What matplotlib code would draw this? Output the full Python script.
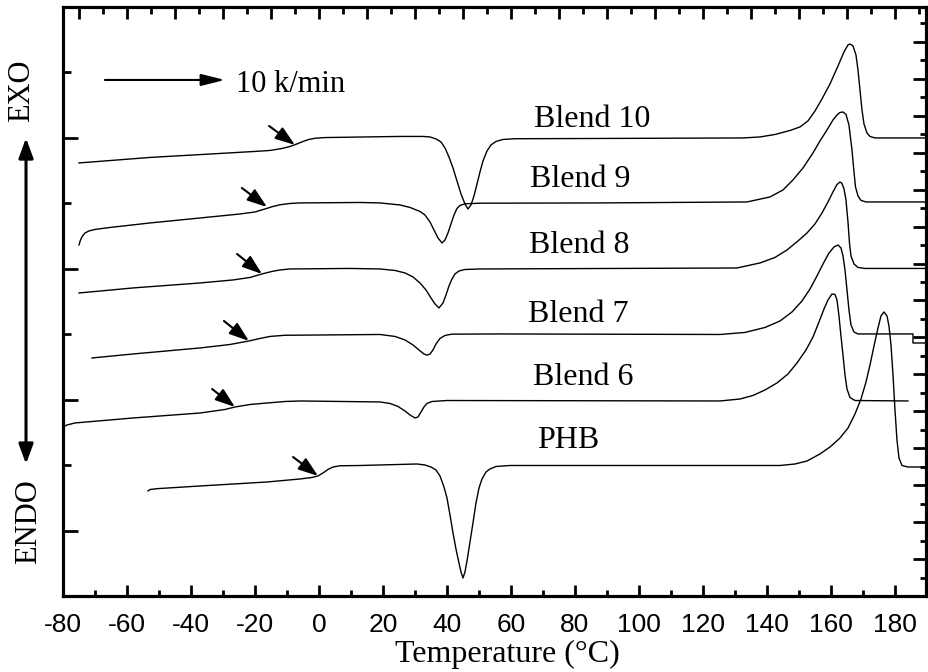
import numpy as np
import matplotlib.pyplot as plt
from matplotlib.ticker import MultipleLocator

plt.rcParams['font.family'] = 'Liberation Serif'
plt.rcParams['axes.unicode_minus'] = False

# DSC curves: temperature (°C) and heat flow (arb. units, shifted)
t_b10 = [-75.0, -52.81, -30.94, -20.0, -15.31, -11.56, -9.06, -6.88, -5.0, -3.12, -1.25, 1.88, 25.31,
         32.5, 34.69, 36.56, 38.12, 39.38, 40.62, 41.88, 43.12, 44.38, 45.62, 46.56, 47.5, 48.44, 49.38,
         50.31, 51.25, 52.5, 53.75, 55.31, 57.5, 61.25, 87.81, 132.5, 137.81, 142.5, 147.19, 150.31,
         152.81, 155.0, 157.19, 159.69, 162.19, 164.06, 165.31, 165.94, 166.88, 167.81, 168.44, 169.06,
         169.69, 170.31, 171.25, 172.19, 173.75, 189.69]
q_b10 = [6.617, 6.701, 6.762, 6.793, 6.808, 6.838, 6.869, 6.907, 6.945, 6.976, 6.994, 7.005, 7.022,
         7.022, 7.014, 6.984, 6.938, 6.846, 6.708, 6.540, 6.342, 6.143, 5.990, 5.914, 5.975, 6.113, 6.296,
         6.479, 6.647, 6.800, 6.892, 6.945, 6.976, 6.987, 6.991, 6.999, 7.014, 7.052, 7.113, 7.167,
         7.259, 7.411, 7.595, 7.824, 8.099, 8.313, 8.420, 8.435, 8.405, 8.267, 8.038, 7.732,
         7.427, 7.213, 7.075, 7.022, 6.999, 6.999]

t_b9 = [-75.0, -74.53, -73.91, -73.12, -71.88, -70.0, -65.31, -52.81, -37.19, -24.69, -20.0, -16.88,
        -14.38, -12.19, -9.06, -5.94, 12.81, 19.06, 25.31, 28.44, 31.56, 33.12, 34.69, 35.94, 37.19,
        38.44, 39.38, 40.31, 41.25, 42.19, 43.12, 44.06, 45.62, 50.31, 87.81, 133.75, 140.94, 145.0,
        148.12, 151.25, 154.38, 156.56, 158.75, 160.62, 161.88, 162.81, 163.75, 164.69, 165.62, 166.56,
        167.19, 167.66, 168.44, 169.38, 170.94, 189.69]
q_b9 = [5.364, 5.440, 5.501, 5.547, 5.578, 5.601, 5.631, 5.700, 5.776, 5.837, 5.868, 5.914,
        5.952, 5.978, 5.998, 6.006, 6.013, 6.006, 5.975, 5.937, 5.876, 5.822, 5.715, 5.593, 5.471,
        5.394, 5.440, 5.547, 5.685, 5.822, 5.921, 5.967, 5.993, 6.002, 6.006, 6.021, 6.097, 6.204,
        6.357, 6.540, 6.770, 6.953, 7.121, 7.274, 7.350, 7.388, 7.396, 7.358, 7.197, 6.815,
        6.479, 6.250, 6.113, 6.044, 6.021, 6.021]

t_b8 = [-75.0, -58.12, -37.19, -26.88, -21.56, -17.81, -14.69, -12.19, -9.06, 9.69, 19.06, 23.75,
        26.88, 29.38, 31.56, 33.44, 35.0, 36.25, 37.5, 38.75, 39.69, 40.62, 41.56, 42.5, 43.75, 45.62,
        50.31, 130.62, 137.81, 142.5, 146.25, 149.69, 152.5, 155.0, 157.19, 159.06, 160.62, 161.88,
        162.81, 163.44, 164.06, 164.69, 165.31, 165.78, 166.25, 167.19, 168.44, 170.62, 189.69]
q_b8 = [4.630, 4.707, 4.783, 4.829, 4.867, 4.921, 4.959, 4.982, 4.997, 5.005, 4.997, 4.974,
        4.936, 4.875, 4.783, 4.676, 4.554, 4.462, 4.401, 4.477, 4.600, 4.737, 4.844, 4.921, 4.966, 4.989,
        4.997, 5.012, 5.089, 5.173, 5.287, 5.425, 5.547, 5.685, 5.853, 6.021, 6.174, 6.288,
        6.326, 6.304, 6.219, 6.051, 5.715, 5.394, 5.196, 5.073, 5.020, 5.005, 5.005]

t_b7 = [-70.94, -58.12, -37.19, -27.81, -21.88, -18.44, -15.31, -10.62, 0.31, 19.06, 23.75, 26.88,
        29.38, 31.25, 32.81, 33.75, 34.69, 35.62, 36.56, 37.81, 39.38, 41.56, 56.56, 125.31, 133.12,
        139.38, 144.06, 147.81, 150.94, 153.44, 155.62, 157.5, 159.38, 160.94, 162.19, 163.12, 163.75,
        164.38, 165.0, 165.62, 166.25, 167.19, 168.44, 185.62, 185.62, 189.69]
q_b7 = [3.637, 3.698, 3.790, 3.843, 3.897, 3.935, 3.966, 3.984, 3.988, 3.996, 3.966, 3.912,
        3.836, 3.759, 3.698, 3.680, 3.698, 3.759, 3.851, 3.935, 3.981, 4.001, 4.004, 3.996, 4.027,
        4.103, 4.202, 4.340, 4.508, 4.691, 4.890, 5.073, 5.241, 5.333, 5.364, 5.318, 5.196,
        4.982, 4.676, 4.370, 4.141, 4.034, 4.004, 4.004, 3.866, 3.866]

t_b6 = [-80.0, -78.75, -76.25, -58.12, -37.19, -29.38, -26.25, -21.56, -16.25, -10.62, -5.94, 19.06,
        22.19, 24.69, 26.88, 28.44, 30.0, 30.94, 31.88, 32.81, 33.75, 35.31, 40.0, 125.31, 131.56,
        135.62, 139.38, 143.12, 146.56, 149.38, 152.19, 154.38, 156.25, 157.81, 159.06, 160.31, 161.25,
        161.88, 162.5, 163.12, 163.75, 164.38, 165.0, 165.94, 167.5, 184.06]
q_b6 = [2.583, 2.613, 2.644, 2.720, 2.796, 2.850, 2.888, 2.926, 2.949, 2.972, 2.980, 2.965,
        2.942, 2.896, 2.827, 2.766, 2.720, 2.735, 2.812, 2.888, 2.942, 2.972, 2.987, 2.980, 3.010,
        3.064, 3.148, 3.255, 3.392, 3.561, 3.759, 3.958, 4.187, 4.386, 4.523, 4.615, 4.607,
        4.523, 4.279, 3.973, 3.683, 3.377, 3.163, 3.033, 2.987, 2.980]

t_phb = [-53.44, -52.81, -50.62, -37.19, -16.25, -5.94, -2.19, -0.31, 1.25, 2.81, 4.38, 6.56, 12.81,
         30.62, 33.12, 35.0, 36.56, 37.81, 39.06, 40.0, 40.94, 41.88, 42.81, 43.75, 44.38, 45.0, 45.62,
         46.25, 47.19, 48.12, 49.06, 50.0, 50.94, 52.19, 53.44, 55.31, 59.69, 87.81, 144.06, 148.75,
         152.5, 156.56, 159.69, 162.81, 165.31, 167.5, 169.38, 170.94, 172.19, 173.44, 174.69, 175.62,
         176.56, 177.5, 178.12, 178.75, 179.38, 180.0, 180.62, 181.25, 182.19, 184.06, 189.69]
q_phb = [1.605, 1.627, 1.640, 1.681, 1.742, 1.788, 1.811, 1.834, 1.880, 1.933, 1.971, 1.990, 1.994,
         2.017, 2.002, 1.971, 1.925, 1.834, 1.666, 1.498, 1.238, 0.963, 0.718, 0.504, 0.367, 0.275, 0.367,
         0.535, 0.825, 1.116, 1.421, 1.650, 1.788, 1.895, 1.941, 1.979, 1.994, 1.994, 1.994, 2.017,
         2.063, 2.170, 2.277, 2.414, 2.567, 2.781, 3.010, 3.270, 3.530, 3.820, 4.095, 4.279,
         4.340, 4.279, 4.126, 3.836, 3.377, 2.842, 2.384, 2.109, 1.994, 1.971, 1.971]

curves = [(t_b10, q_b10), (t_b9, q_b9), (t_b8, q_b8), (t_b7, q_b7), (t_b6, q_b6), (t_phb, q_phb)]

names = ['Blend 10', 'Blend 9', 'Blend 8', 'Blend 7', 'Blend 6', 'PHB']
name_t = [85.3, 81.6, 81.25, 80.9, 82.5, 77.8]
name_q = [7.167, 6.250, 5.241, 4.187, 3.224, 2.262]

# glass transition markers (tail -> tip)
tg_tail_t = [-15.6, -24.1, -25.6, -29.7, -33.4, -8.1]
tg_tail_q = [7.182, 6.235, 5.226, 4.202, 3.163, 2.124]
tg_tip_t = [-7.5, -16.25, -17.8, -21.9, -26.25, -0.3]
tg_tip_q = [6.892, 5.944, 4.920, 3.897, 2.888, 1.834]

xticks = np.arange(-80, 181, 20)

fig = plt.figure(figsize=(9.29, 6.72), dpi=100)
ax = fig.add_axes([0.0678, 0.1131, 0.929, 0.8765])

for t, q in curves:
    ax.plot(t, q, color='k', lw=1.0)

ax.set_xlim(-80, 189.7)
ax.set_ylim(0, 9)

for name, x, y in zip(names, name_t, name_q):
    ax.text(x, y, name, ha='center', va='baseline', fontsize=23)

for x0, y0, x1, y1 in zip(tg_tail_t, tg_tail_q, tg_tip_t, tg_tip_q):
    ax.annotate('', xy=(x1, y1), xytext=(x0, y0),
                arrowprops=dict(arrowstyle='-|>,head_length=0.8,head_width=0.28', mutation_scale=15,
                                color='k', lw=1.5, shrinkA=0, shrinkB=0))

# heating rate
ax.annotate('', xy=(-29.4, 7.885), xytext=(-66.9, 7.885),
            arrowprops=dict(arrowstyle='-|>,head_length=0.8,head_width=0.2', mutation_scale=18,
                            color='k', lw=1.5, shrinkA=0, shrinkB=0))
ax.text(-25.9, 7.702, '10 k/min', ha='left', va='baseline', fontsize=22)

ax.set_xticks(xticks)
ax.set_xticklabels([str(v) for v in xticks], family='Liberation Sans', fontsize=19)
ax.xaxis.set_minor_locator(MultipleLocator(10))
ax.tick_params(axis='x', which='major', direction='in', length=8, width=2, pad=12)
ax.tick_params(axis='x', which='minor', direction='in', length=4.3, width=2)

ax.set_yticks([1, 3, 5, 7])
ax.set_yticks([2, 4, 6, 8], minor=True)
ax.tick_params(axis='y', which='major', direction='in', length=10.8, width=2, labelleft=False)
ax.tick_params(axis='y', which='minor', direction='in', length=5.8, width=2)

# top and right axes carry their own tick spacing
axt = ax.twiny()
axt.set_xlim(-2 / 3, 863 / 24 - 2 / 3)
axt.xaxis.set_major_locator(MultipleLocator(2))
axt.xaxis.set_minor_locator(MultipleLocator(1))
axt.tick_params(axis='x', which='major', direction='in', length=8.6, width=2, labeltop=False)
axt.tick_params(axis='x', which='minor', direction='in', length=5, width=2)

axr = ax.twinx()
axr.set_ylim(0, 589 / 18.47)
axr.yaxis.set_major_locator(MultipleLocator(2))
axr.yaxis.set_minor_locator(MultipleLocator(1))
axr.tick_params(axis='y', which='major', direction='in', length=9.4, width=2, labelright=False)
axr.tick_params(axis='y', which='minor', direction='in', length=4.3, width=2)

for a in (ax, axt, axr):
    for s in a.spines.values():
        s.set_linewidth(2.2)

# EXO / ENDO direction
ax.annotate('', xy=(0.028, 0.7946), xytext=(0.028, 0.3095), xycoords='figure fraction',
            textcoords='figure fraction', annotation_clip=False,
            arrowprops=dict(arrowstyle='<|-|>,head_length=0.6,head_width=0.22', mutation_scale=20,
                            color='k', lw=2.2, shrinkA=0, shrinkB=0))
fig.text(0.0237, 0.8646, 'EXO', rotation=90, ha='center', va='center', fontsize=22)
fig.text(0.031, 0.2232, 'ENDO', rotation=90, ha='center', va='center', fontsize=22)

fig.text(0.5457, 0.0149, 'Temperature (°C)', ha='center', va='baseline', fontsize=23)

fig.savefig('out.png', dpi=100)
